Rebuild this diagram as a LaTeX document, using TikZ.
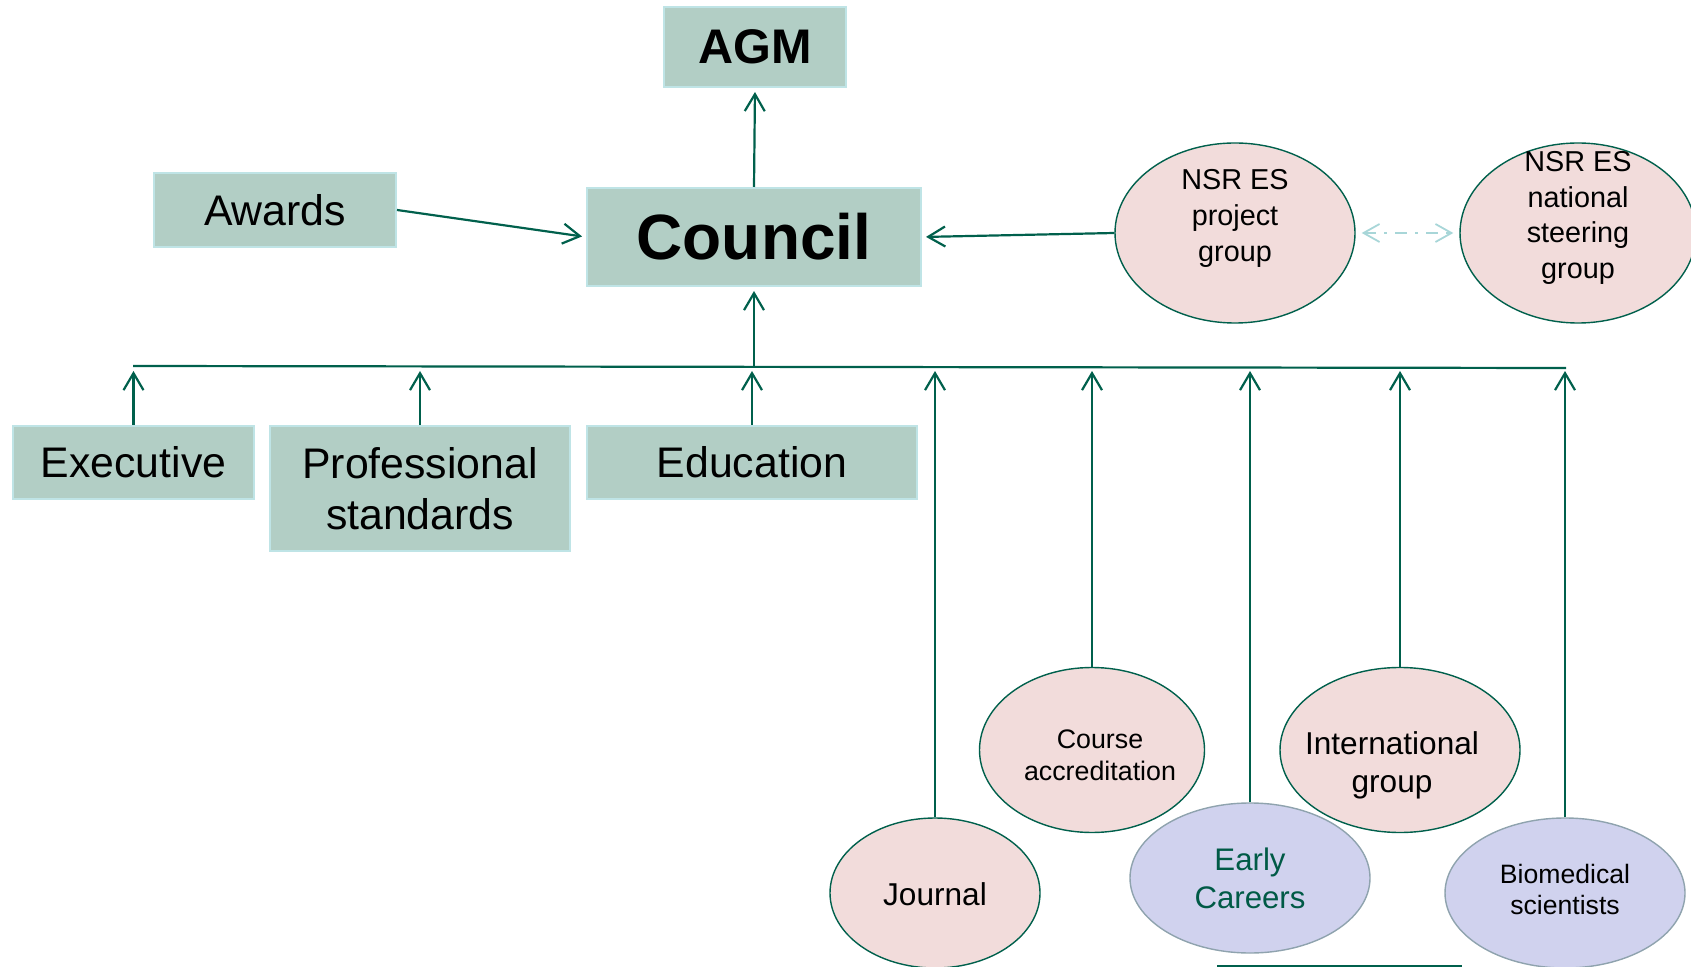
\documentclass[tikz,border=0pt]{standalone}
\usepackage{fontspec}
\setmainfont{Liberation Sans}
\usetikzlibrary{arrows.meta,shapes.geometric}
\definecolor{boxfill}{HTML}{B2CEC5}
\definecolor{boxline}{HTML}{BFE4E6}
\definecolor{pinkfill}{HTML}{F2DCDB}
\definecolor{lavfill}{HTML}{D0D2EE}
\definecolor{lavline}{HTML}{8FA3AE}
\definecolor{conn}{HTML}{00604C}
\definecolor{ectext}{HTML}{005A46}
\definecolor{dashc}{HTML}{A8D6D8}
\begin{document}
\begin{tikzpicture}[x=0.5pt,y=-0.5pt,
  rbox/.style={rectangle, fill=boxfill, draw=boxline, line width=1pt, inner sep=0pt, align=center},
  pell/.style={ellipse, fill=pinkfill, draw=conn, line width=0.7pt, inner sep=0pt},
  lell/.style={ellipse, fill=lavfill, draw=lavline, line width=0.7pt, inner sep=0pt},
  etext/.style={inner sep=0pt, align=center},
  conline/.style={draw=conn, line width=1.1pt},
  arr/.style={draw=conn, line width=1.1pt, -{Straight Barb[length=8.5pt,width=10pt,line width=1.1pt]}},
  bigtxt/.style={font=\fontsize{21.4}{25.5}\selectfont},
]
\useasboundingbox (0,0) rectangle (1691,967);

% rectangles
\node[rbox, minimum width=91pt, minimum height=40pt, font=\bfseries\fontsize{24.3}{28}\selectfont] (agm) at (755,47) {AGM};
\node[rbox, minimum width=167pt, minimum height=49pt, font=\bfseries\fontsize{32}{40}\selectfont] (council) at (754,237) {Council};
\node[rbox, bigtxt, minimum width=121pt, minimum height=37pt] (awards) at (275,210) {Awards};
\node[rbox, bigtxt, minimum width=120.5pt, minimum height=36.5pt] (exec) at (133.5,462.5) {Executive};
\node[rbox, bigtxt, minimum width=150pt, minimum height=62.5pt] (prof) at (420,488.5) {Professional\\standards};
\node[rbox, bigtxt, minimum width=165pt, minimum height=36.5pt] (edu) at (752,462.5) {Education};

% ellipses
\node[pell, minimum width=120pt, minimum height=90pt] (nsrp) at (1235,233) {};
\node[etext, font=\fontsize{14.4}{18}\selectfont] (nsrpt) at (1235,218.5) {NSR ES\\project\\group};
\node[pell, minimum width=118pt, minimum height=90pt] (nsrn) at (1578,233) {};
\node[etext, font=\fontsize{14.4}{17.7}\selectfont] (nsrnt) at (1578,218) {NSR ES\\national\\steering\\group};

\node[pell, minimum width=105pt, minimum height=75pt] (journal) at (935,893) {};
\node[etext, font=\fontsize{15.8}{19.3}\selectfont] (journalt) at (935,894) {Journal};
\node[pell, minimum width=112.5pt, minimum height=82.5pt] (course) at (1092,750) {};
\node[etext, font=\fontsize{13.4}{16}\selectfont] (courset) at (1100,755) {Course\\accreditation};
\node[pell, minimum width=120pt, minimum height=82.5pt] (intl) at (1400,750) {};
\node[etext, font=\fontsize{15.8}{19}\selectfont] (intlt) at (1392,765) {International\\group};
\node[lell, minimum width=120pt, minimum height=75pt] (early) at (1250,878) {};
\node[etext, text=ectext, font=\fontsize{15.6}{19.3}\selectfont] (earlyt) at (1250,878.5) {Early\\Careers};
\node[lell, minimum width=120pt, minimum height=75pt] (bio) at (1565,893) {};
\node[etext, font=\fontsize{13.3}{15.5}\selectfont] (biot) at (1565,889.5) {Biomedical\\scientists};

% bus
\coordinate (busL) at (133,366);
\coordinate (busR) at (1566,368);
\coordinate (busC) at (754,367);
\draw[conline] (busL) -- (busR);

% connectors
\draw[arr, shorten >=2pt] (council.north) -- (agm.south);
\draw[arr, shorten >=2pt] (awards.east) -- (council.west);
\draw[arr, shorten >=2pt] (nsrp.west) -- (council.east);
\draw[arr, shorten >=2pt] (busC) -- (council.south);
\foreach \n in {exec,prof,edu,journal,course,early,intl,bio}{
  \draw[arr, shorten >=2pt] (\n.north) -- (\n.north |- busC);
}

% dashed double arrow
\draw[dashc, line width=0.9pt, dash pattern=on 6pt off 4pt on 1.5pt off 4pt,
  {Straight Barb[length=8pt,width=9pt,line width=0.9pt]}-{Straight Barb[length=8pt,width=9pt,line width=0.9pt]},
  shorten <=3pt, shorten >=3pt] (nsrp.east) -- (nsrn.west);

% bottom edge fragment
\coordinate (bl1) at (1217,966);
\coordinate (bl2) at (1462,966);
\draw[conline] (bl1) -- (bl2);
\end{tikzpicture}
\end{document}
